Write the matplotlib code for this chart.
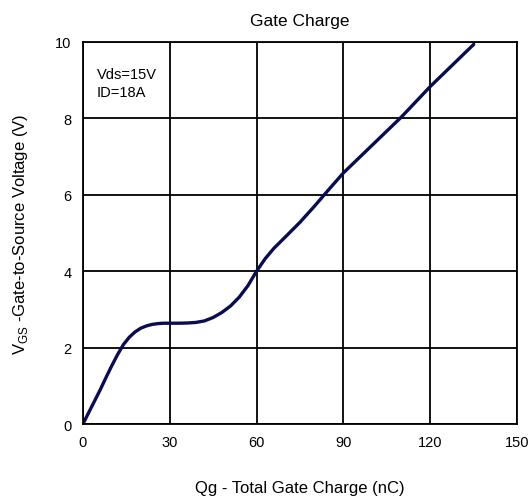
import numpy as np
import matplotlib.pyplot as plt

plt.rcParams['font.family'] = ['Liberation Sans', 'DejaVu Sans']

# gate charge curve (nC, V)
qg = [0, 2, 4, 6, 8, 10, 12, 14, 16, 18, 20, 22, 24, 26, 28, 30, 33, 36, 39,
      42, 45, 48, 51, 54, 57, 60, 63, 66, 70, 75, 80, 85, 90, 100, 110, 120, 135]
vgs = [0, 0.3, 0.6, 0.9, 1.22, 1.53, 1.82, 2.08, 2.27, 2.41, 2.51, 2.57, 2.61,
       2.63, 2.64, 2.64, 2.64, 2.645, 2.66, 2.7, 2.79, 2.92, 3.09, 3.32, 3.62,
       4.0, 4.33, 4.6, 4.9, 5.28, 5.7, 6.14, 6.57, 7.3, 8.03, 8.83, 9.93]
xticks = [0, 30, 60, 90, 120, 150]
yticks = [0, 2, 4, 6, 8, 10]

fig = plt.figure(figsize=(5.31, 5.02), dpi=100)
ax = fig.add_axes([0.156, 0.153, 0.818, 0.762])

ax.plot(qg, vgs, color='#0b0b4f', lw=2.4, solid_capstyle='round',
        solid_joinstyle='round')

ax.set_xlim(0, 150)
ax.set_ylim(0, 10)
ax.set_xticks(xticks)
ax.set_yticks(yticks)
ax.tick_params(length=0, labelsize=10.5, pad=8)
ax.grid(True, color='black', lw=1.3)
for s in ax.spines.values():
    s.set_linewidth(1.3)

ax.text(4.8, 9.35, 'Vds=15V\nID=18A', fontsize=10.5, va='top', linespacing=1.4)

ax.set_title('Gate Charge', fontsize=12.5, pad=12)
ax.set_xlabel('Qg - Total Gate Charge (nC)', fontsize=12, labelpad=22)
ax.set_ylabel(r'V$_{\mathregular{GS}}$ -Gate-to-Source Voltage (V)', fontsize=12, labelpad=18)

fig.savefig('out.png')
